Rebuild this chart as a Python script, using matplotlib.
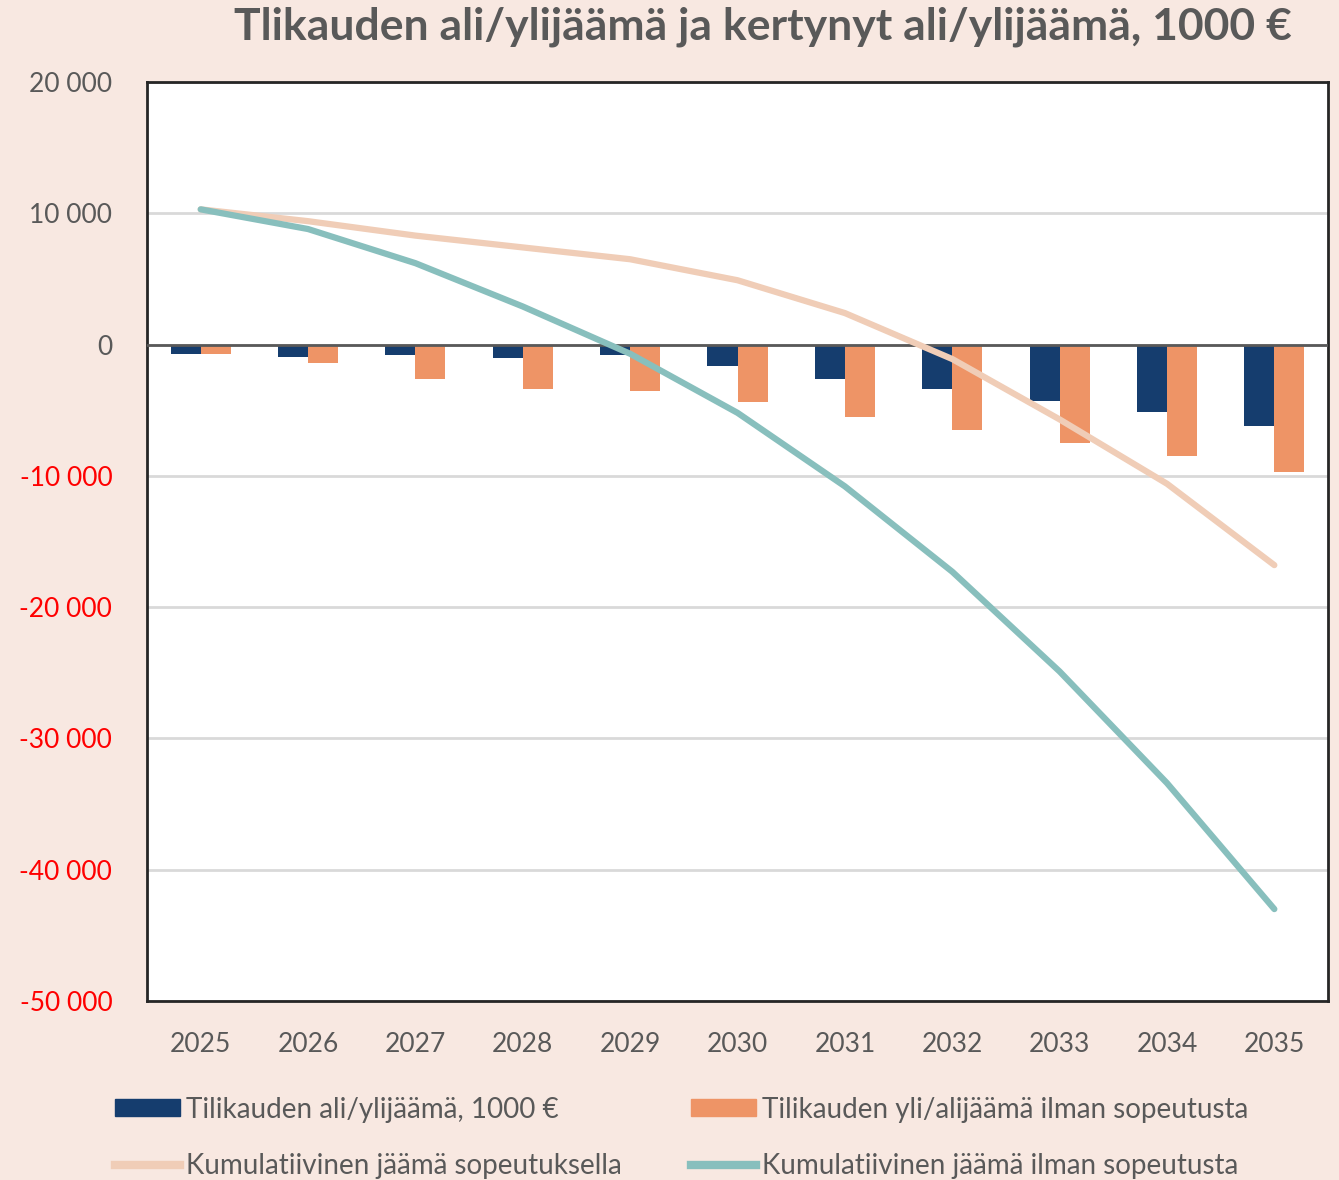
import matplotlib.pyplot as plt
import numpy as np
from matplotlib.ticker import FuncFormatter
from matplotlib.patches import Patch
from matplotlib.lines import Line2D

plt.rcParams['font.family'] = ['Lato', 'DejaVu Sans']

years = ['2025', '2026', '2027', '2028', '2029', '2030', '2031', '2032', '2033', '2034', '2035']
tilikausi = [-700, -950, -800, -1000, -800, -1600, -2600, -3400, -4300, -5100, -6200]
ilman_sop = [-700, -1400, -2600, -3400, -3500, -4400, -5500, -6500, -7500, -8500, -9700]
kum_sop = [10300, 9400, 8300, 7400, 6500, 4900, 2400, -1100, -5700, -10600, -16800]
kum_ilman = [10300, 8800, 6200, 2900, -700, -5200, -10800, -17300, -24900, -33400, -43000]

labels = ['Tilikauden ali/ylijäämä, 1000 €',
          'Tilikauden yli/alijäämä ilman sopeutusta',
          'Kumulatiivinen jäämä sopeutuksella',
          'Kumulatiivinen jäämä ilman sopeutusta']

navy = '#153d6e'
orange = '#ee9466'
beige = '#f0cdb7'
teal = '#88bfbd'
bg = '#f8e8e1'
grey = '#595959'

fig = plt.figure(figsize=(13.39, 11.8), dpi=100, facecolor=bg)
ax = fig.add_axes([0.1098, 0.1517, 0.882, 0.7788])
ax.set_facecolor('white')

x = np.arange(len(years))
w = 0.28
ax.bar(x - w/2, tilikausi, w, color=navy, zorder=3)
ax.bar(x + w/2, ilman_sop, w, color=orange, zorder=3)
ax.plot(x, kum_sop, color=beige, lw=4.5, solid_capstyle='round', zorder=4)
ax.plot(x, kum_ilman, color=teal, lw=4.5, solid_capstyle='round', zorder=5)

ax.axhline(0, color=grey, lw=2, zorder=3.5)
ax.set_xlim(-0.5, len(years) - 0.5)
ax.set_ylim(-50000, 20000)
ax.set_yticks(np.arange(-50000, 20001, 10000))
ax.yaxis.set_major_formatter(FuncFormatter(lambda v, p: f'{int(v):,}'.replace(',', ' ')))
ax.grid(axis='y', color='#d9d9d9', lw=2, zorder=0)
ax.set_xticks(x)
ax.set_xticklabels(years)
ax.tick_params(length=0, labelsize=19, colors=grey)
ax.tick_params(axis='y', pad=25)
ax.tick_params(axis='x', pad=22)
for t, v in zip(ax.get_yticklabels(), ax.get_yticks()):
    if v < 0:
        t.set_color('#ff0000')
for s in ax.spines.values():
    s.set_color('#262626')
    s.set_linewidth(2)

fig.text(0.570, 0.977, 'Tlikauden ali/ylijäämä ja kertynyt ali/ylijäämä, 1000 €',
         ha='center', va='center', fontsize=32, fontweight='bold', color=grey)

handles = [Patch(color=navy), Line2D([], [], color=beige, lw=6),
           Patch(color=orange), Line2D([], [], color=teal, lw=6)]
leg = fig.legend(handles, [labels[0], labels[2], labels[1], labels[3]], ncol=2,
                 loc='lower left', bbox_to_anchor=(0.067, -0.0205), frameon=False,
                 fontsize=20, labelcolor=grey, handlelength=2.35, handleheight=0.55,
                 handletextpad=0.2, columnspacing=2.5, labelspacing=1.1)

fig.savefig('out.png', dpi=100, facecolor=bg)
